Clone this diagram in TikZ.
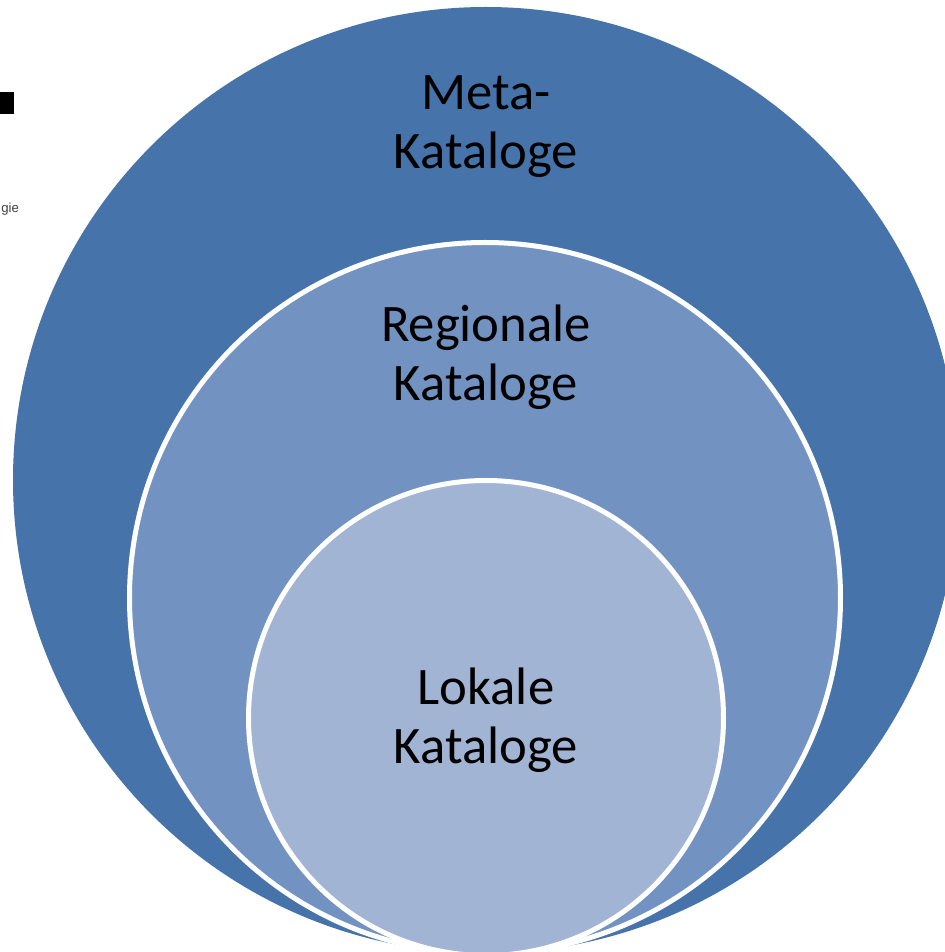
\documentclass[tikz,border=0pt]{standalone}
\usepackage{fontspec}
\setmainfont{Carlito}
\newfontfamily\slidefont{Liberation Sans}
\usepackage{tikz}
\usetikzlibrary{positioning}
\definecolor{metablue}{RGB}{70,116,170}
\definecolor{regblue}{RGB}{114,147,194}
\definecolor{lokblue}{RGB}{162,180,212}

\begin{document}
\begin{tikzpicture}
\useasboundingbox (0,0) rectangle (18.9,19.04);
\clip (0,0) rectangle (18.9,19.04);
\draw[fill=metablue,draw=none] (9.72,9.44) circle (9.46);
\draw[fill=regblue,draw=white,line width=0.1cm] (9.70,7.08) circle (7.11);
\draw[fill=lokblue,draw=white,line width=0.1cm] (9.72,4.68) circle (4.75);

\node[font=\fontsize{30}{33.5}\selectfont,align=center] (meta) at (9.72,16.5) {Meta-\\Kataloge};
\node[font=\fontsize{30}{33.5}\selectfont,align=center] (regional) at (9.72,11.9) {Regionale\\Kataloge};
\node[font=\fontsize{30}{33.5}\selectfont,align=center] (lokal) at (9.72,4.64) {Lokale\\Kataloge};

\draw[fill=black] (0,16.77) rectangle (0.27,17.19);
\node[font=\fontsize{7.5}{9}\slidefont,text=black!75,anchor=base west,inner sep=0pt] (gie) at (0.02,14.79) {gie};
\end{tikzpicture}
\end{document}
